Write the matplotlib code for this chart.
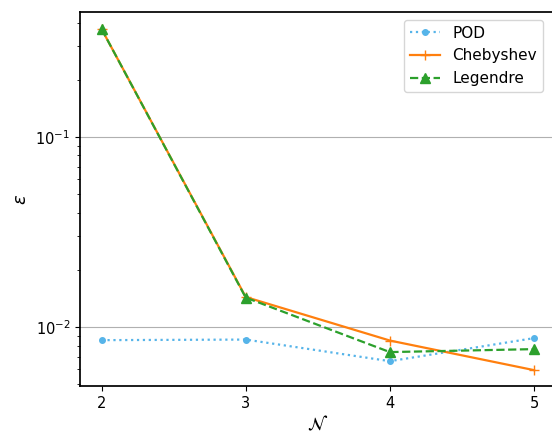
import numpy as np
import matplotlib
matplotlib.use('Agg')
import matplotlib.pyplot as plt

# data
N = [2, 3, 4, 5]
pod = [0.00854, 0.0086, 0.00662, 0.00875]
chebyshev = [0.37, 0.0144, 0.0085, 0.00594]
legendre = [0.37, 0.0143, 0.00739, 0.00766]

fig = plt.figure(figsize=(5.52, 4.37), dpi=100)
ax = fig.add_axes([0.1449, 0.1167, 0.8616, 0.8558])

ax.plot(N, pod, ':', color='#56b4e9', marker='o', markersize=4, linewidth=1.6, label='POD')
ax.plot(N, chebyshev, '-', color='#ff7f0e', marker='+', markersize=7, linewidth=1.6, label='Chebyshev')
ax.plot(N, legendre, '--', color='#2ca02c', marker='^', markersize=7, linewidth=1.6, label='Legendre')

ax.set_yscale('log')
ax.set_ylim(0.0049, 0.455)
ax.set_xlim(1.85, 5.15)
ax.set_xticks(N)
ax.tick_params(labelsize=10.5)
ax.grid(True, which='major', axis='y', color='#b0b0b0', linewidth=0.8)
ax.set_xlabel(r'$\mathcal{N}$', fontsize=13, labelpad=3)
ax.set_ylabel(r'$\varepsilon$', fontsize=13)
for s in ax.spines.values():
    s.set_linewidth(1.25)
ax.legend(loc='upper right', bbox_to_anchor=(0.99, 1.0), fontsize=11)

fig.savefig('out.png', dpi=100)
